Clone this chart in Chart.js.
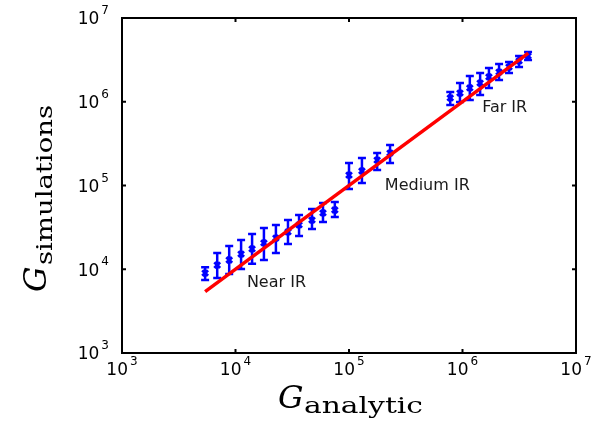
<!DOCTYPE html>
<html>
<head>
<meta charset="utf-8">
<script src="https://cdn.jsdelivr.net/npm/chart.js@4/dist/chart.umd.min.js"></script>
<style>
  body { margin: 0; background: #fff; }
  #wrap { width: 601px; height: 429px; }
</style>
</head>
<body>
<div id="wrap"><canvas id="myChart" width="601" height="429"></canvas></div>
<script>
// values
var gAnalytic = [5.4e3, 6.9e3, 8.8e3, 1.12e4, 1.4e4, 1.78e4, 2.27e4, 2.9e4, 3.63e4, 4.72e4, 5.9e4, 7.5e4,
                 1.0e5, 1.3e5, 1.77e5, 2.3e5,
                 7.8e5, 9.5e5, 1.16e6, 1.43e6, 1.71e6, 2.1e6, 2.57e6, 3.15e6, 3.78e6];
var gSim      = [9.0e3, 1.12e4, 1.29e4, 1.52e4, 1.75e4, 2.06e4, 2.36e4, 2.79e4, 3.38e4, 3.87e4, 4.7e4, 5.1e4,
                 1.33e5, 1.49e5, 2.01e5, 2.44e5,
                 1.11e6, 1.27e6, 1.46e6, 1.67e6, 1.98e6, 2.26e6, 2.6e6, 3.07e6, 3.52e6];
var gSimHi    = [1.06e4, 1.56e4, 1.9e4, 2.24e4, 2.64e4, 3.11e4, 3.38e4, 3.87e4, 4.44e4, 5.24e4, 6.18e4, 6.35e4,
                 1.86e5, 2.13e5, 2.44e5, 3.05e5,
                 1.31e6, 1.67e6, 2.03e6, 2.2e6, 2.53e6, 2.82e6, 2.98e6, 3.52e6, 3.93e6];
var gSimLo    = [7.45e3, 7.86e3, 8.77e3, 1.01e4, 1.16e4, 1.29e4, 1.56e4, 2.0e4, 2.49e4, 3.03e4, 3.66e4, 4.21e4,
                 9.08e4, 1.07e5, 1.53e5, 1.86e5,
                 9.14e5, 9.93e5, 1.05e6, 1.2e6, 1.46e6, 1.82e6, 2.2e6, 2.6e6, 3.15e6];
var fitLine = [5.4e3, 3.8e6];   // y = x
var decades = [3, 4, 5, 6, 7];
var regionLabels = ['Near IR', 'Medium IR', 'Far IR'];
var regionAt = [[1.26e4, 6.85e3], [2.07e5, 9.86e4], [1.49e6, 8.5e5]];

var points = [];
for (var i = 0; i < gAnalytic.length; i++) {
    points.push({x: gAnalytic[i], y: gSim[i]});
}

function drawPow(ctx, x, y, exp, align) {
    ctx.font = '17px "DejaVu Sans"';
    var w1 = ctx.measureText('10').width;
    ctx.font = '12px "DejaVu Sans"';
    var w2 = ctx.measureText(String(exp)).width + 2;
    var left = align == 'right' ? x - w1 - w2 : x - (w1 + w2) / 2;
    ctx.textBaseline = 'middle';
    ctx.textAlign = 'left';
    ctx.font = '17px "DejaVu Sans"';
    ctx.fillText('10', left, y);
    ctx.font = '12px "DejaVu Sans"';
    ctx.fillText(String(exp), left + w1 + 2, y - 9);
}

// text stretched along its direction to a target width
function fitText(ctx, txt, x, y, width) {
    var w = ctx.measureText(txt).width;
    ctx.save();
    ctx.translate(x, y);
    ctx.scale(width / w, 1);
    ctx.fillText(txt, 0, 0);
    ctx.restore();
}

var extras = {
    id: 'extras',
    beforeDatasetsDraw: function(chart) {
        var ctx = chart.ctx, xs = chart.scales.x, ys = chart.scales.y;
        ctx.save();
        ctx.strokeStyle = '#0000ff';
        ctx.lineWidth = 2.5;
        for (var i = 0; i < gAnalytic.length; i++) {
            var px = xs.getPixelForValue(gAnalytic[i]);
            var top = ys.getPixelForValue(gSimHi[i]);
            var bot = ys.getPixelForValue(gSimLo[i]);
            ctx.beginPath();
            ctx.moveTo(px, top); ctx.lineTo(px, bot);
            ctx.moveTo(px - 4, top); ctx.lineTo(px + 4, top);
            ctx.moveTo(px - 4, bot); ctx.lineTo(px + 4, bot);
            ctx.stroke();
        }
        ctx.restore();
    },
    afterDraw: function(chart) {
        var ctx = chart.ctx, a = chart.chartArea, xs = chart.scales.x, ys = chart.scales.y;
        ctx.save();
        ctx.strokeStyle = '#000';
        ctx.lineWidth = 2;
        ctx.strokeRect(a.left, a.top, a.right - a.left, a.bottom - a.top);
        ctx.beginPath();
        decades.forEach(function(d) {
            var px = xs.getPixelForValue(Math.pow(10, d));
            ctx.moveTo(px, a.bottom); ctx.lineTo(px, a.bottom - 4);
            ctx.moveTo(px, a.top); ctx.lineTo(px, a.top + 4);
            var py = ys.getPixelForValue(Math.pow(10, d));
            ctx.moveTo(a.left, py); ctx.lineTo(a.left + 4, py);
            ctx.moveTo(a.right, py); ctx.lineTo(a.right - 4, py);
        });
        ctx.stroke();
        ctx.fillStyle = '#000';
        decades.forEach(function(d) {
            drawPow(ctx, xs.getPixelForValue(Math.pow(10, d)), a.bottom + 18, d, 'center');
            drawPow(ctx, a.left - 13, ys.getPixelForValue(Math.pow(10, d)) + 2, d, 'right');
        });
        // region labels
        ctx.font = '16px "DejaVu Sans"';
        ctx.textAlign = 'left';
        ctx.textBaseline = 'middle';
        ctx.fillStyle = '#1a1a1a';
        for (var i = 0; i < regionLabels.length; i++) {
            ctx.fillText(regionLabels[i], xs.getPixelForValue(regionAt[i][0]), ys.getPixelForValue(regionAt[i][1]));
        }
        // axis titles
        ctx.fillStyle = '#000';
        ctx.textBaseline = 'alphabetic';
        ctx.font = 'italic 32px "DejaVu Serif"';
        ctx.fillText('G', 278, 408);
        ctx.font = '23px "DejaVu Serif"';
        fitText(ctx, 'analytic', 304, 413, 119);

        ctx.translate(46, 292);
        ctx.rotate(-Math.PI / 2);
        ctx.font = 'italic 32px "DejaVu Serif"';
        ctx.fillText('G', 0, 0);
        ctx.font = '23px "DejaVu Serif"';
        fitText(ctx, 'simulations', 27, 6, 160);
        ctx.restore();
    }
};

var chart = new Chart(document.getElementById('myChart').getContext('2d'), {
    type: 'scatter',
    data: {
        datasets: [{
            type: 'line',
            data: [{x: fitLine[0], y: fitLine[0]}, {x: fitLine[1], y: fitLine[1]}],
            borderColor: '#ff0000',
            borderWidth: 3.5,
            pointRadius: 0,
            fill: false
        }, {
            data: points,
            pointStyle: 'crossRot',
            pointRadius: 4,
            borderColor: '#0000ff',
            backgroundColor: '#0000ff',
            pointBorderWidth: 3
        }]
    },
    options: {
        responsive: false,
        animation: false,
        layout: { padding: { left: 122, right: 25, top: 18, bottom: 76 } },
        plugins: { legend: { display: false }, tooltip: { enabled: false } },
        scales: {
            x: { type: 'logarithmic', min: 1e3, max: 1e7, display: false },
            y: { type: 'logarithmic', min: 1e3, max: 1e7, display: false }
        }
    },
    plugins: [extras]
});
</script>
</body>
</html>
